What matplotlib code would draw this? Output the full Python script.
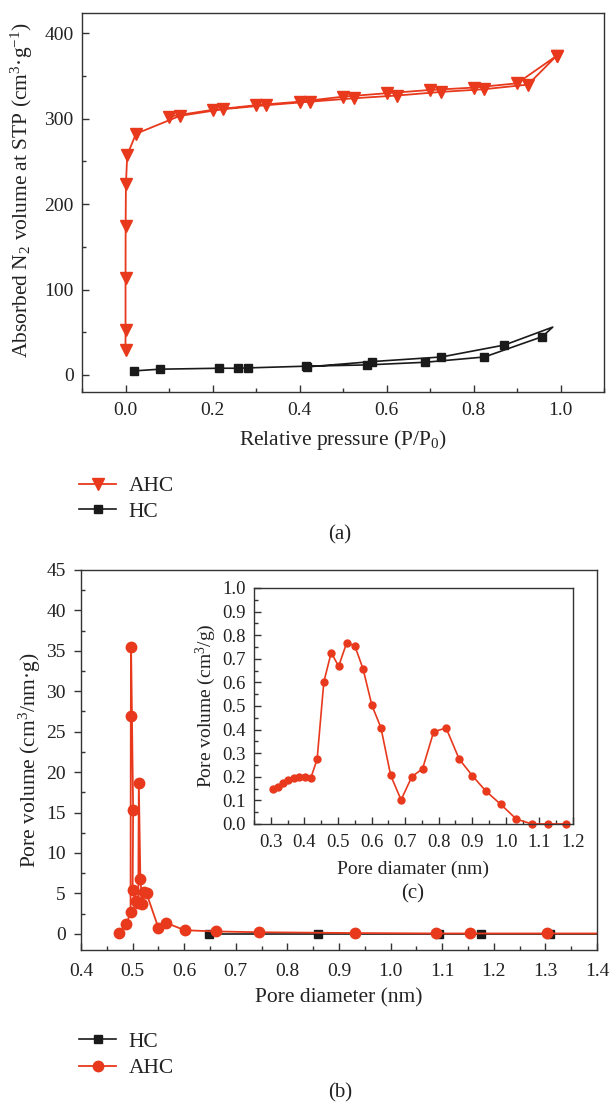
import matplotlib
matplotlib.use("Agg")
from matplotlib import pyplot as plt
from matplotlib.ticker import MultipleLocator

plt.rcParams['font.family'] = ['Liberation Serif', 'DejaVu Serif']
plt.rcParams['mathtext.fontset'] = 'custom'
plt.rcParams['mathtext.rm'] = 'Liberation Serif'
plt.rcParams['mathtext.it'] = 'Liberation Serif:italic'
plt.rcParams['axes.unicode_minus'] = True

RED = '#e8391d'
BLACK = '#1a1a1a'
TXT = '#222222'

# (a) N2 isotherms
ahc_ads_p = [0.00001, 0.00003, 0.0001, 0.0003, 0.001, 0.004, 0.024, 0.125, 0.224, 0.324,
             0.424, 0.525, 0.624, 0.724, 0.824, 0.925, 0.991]
ahc_ads_v = [29.2, 52.6, 113.7, 174.9, 224.0, 257.5, 282.4, 303.4, 311.2, 315.9,
             320.0, 324.0, 327.2, 331.4, 334.6, 340.0, 373.8]
ahc_des_p = [0.991, 0.90, 0.80, 0.70, 0.60, 0.50, 0.40, 0.30, 0.20, 0.10]
ahc_des_v = [373.8, 341.5, 336.5, 333.7, 329.9, 325.9, 320.0, 315.9, 310.4, 302.6]

hc_ads_p = [0.020, 0.079, 0.216, 0.258, 0.281, 0.414, 0.554, 0.689, 0.825, 0.958, 0.982]
hc_ads_v = [4.7, 6.7, 7.8, 7.8, 8.2, 10.2, 11.7, 14.8, 21.0, 44.8, 56.0]
hc_des_p = [0.982, 0.871, 0.726, 0.567, 0.418]
hc_des_v = [56.0, 35.0, 21.0, 15.6, 9.4]

# (b) pore size distribution
ahc_d = [0.473, 0.488, 0.496, 0.4965, 0.497, 0.501, 0.500, 0.506, 0.511, 0.512, 0.515,
         0.519, 0.523, 0.527, 0.550, 0.565, 0.601, 0.661, 0.745, 0.931, 1.088, 1.153,
         1.303, 1.50]
ahc_pv = [0.1, 1.2, 2.7, 26.9, 35.5, 15.3, 5.4, 4.1, 3.8, 18.7, 6.8,
          3.7, 5.2, 5.0, 0.74, 1.36, 0.45, 0.3, 0.2, 0.1, 0.05, 0.05,
          0.05, 0.05]
hc_d = [0.649, 0.859, 1.093, 1.175, 1.308, 1.50]
hc_pv = [0.0, 0.0, 0.0, 0.0, 0.0, 0.0]

# (c) inset
ins_d = [0.307, 0.321, 0.336, 0.351, 0.368, 0.384, 0.401, 0.419, 0.438, 0.458, 0.480,
         0.502, 0.526, 0.550, 0.575, 0.601, 0.628, 0.657, 0.688, 0.720, 0.752, 0.785,
         0.822, 0.861, 0.900, 0.940, 0.985, 1.031, 1.077, 1.126, 1.179]
ins_pv = [0.147, 0.158, 0.175, 0.186, 0.194, 0.200, 0.200, 0.194, 0.274, 0.602, 0.726,
          0.668, 0.767, 0.756, 0.656, 0.503, 0.408, 0.206, 0.102, 0.200, 0.234, 0.390,
          0.407, 0.275, 0.205, 0.140, 0.083, 0.021, 0.0, 0.0, 0.0]

fig = plt.figure(figsize=(6.11, 11.02), dpi=100)


def style(ax, fs=14, xpad=7):
    for s in ax.spines.values():
        s.set_linewidth(1.0)
        s.set_color('#333333')
    ax.tick_params(which='both', direction='in', top=False, right=False,
                   labelsize=fs, colors='#333333', labelcolor=TXT)
    ax.tick_params(which='major', length=5, width=1.0)
    ax.tick_params(which='minor', length=3, width=1.0)
    ax.tick_params(axis='x', which='both', pad=xpad)
    ax.tick_params(axis='y', which='both', pad=6)


# ---- (a)
ax1 = fig.add_axes([0.1342, 0.6443, 0.8545, 0.344])
style(ax1, xpad=7)
p_all = ahc_ads_p + ahc_des_p
v_all = ahc_ads_v + ahc_des_v
l_ahc, = ax1.plot(p_all, v_all, color=RED, lw=1.3, marker='v', ms=8, mfc=RED, mec=RED)
hp = hc_ads_p + hc_des_p[1:]
hv = hc_ads_v + hc_des_v[1:]
marks = [i for i in range(len(hp)) if i != len(hc_ads_p) - 1]
l_hc, = ax1.plot(hp, hv, color=BLACK, lw=1.2, marker='s', ms=5.5, mfc=BLACK, mec=BLACK,
                 markevery=marks)
ax1.set_xlim(-0.1, 1.1)
ax1.set_ylim(-20, 424)
ax1.xaxis.set_major_locator(MultipleLocator(0.2))
ax1.xaxis.set_minor_locator(MultipleLocator(0.1))
ax1.yaxis.set_major_locator(MultipleLocator(100))
ax1.yaxis.set_minor_locator(MultipleLocator(50))
ax1.set_xlabel('Relative pressure (P/P$_0$)', fontsize=15.5, color=TXT, labelpad=6.5)
ax1.set_ylabel('Absorbed N$_2$ volume at STP (cm$^3$·g$^{-1}$)', fontsize=15.5, color=TXT)
ax1.yaxis.set_label_coords(-0.09, 0.533)

fig.legend([l_ahc, l_hc], ['AHC', 'HC'], loc='upper left', bbox_to_anchor=(0.098, 0.5855),
           frameon=False, fontsize=15.5, handlelength=1.7, handletextpad=0.6,
           labelspacing=0.25, labelcolor=TXT)
fig.text(0.556, 1 - 535 / 1102, '(a)', ha='center', va='center', fontsize=15, color=TXT)

# ---- (b)
ax2 = fig.add_axes([0.1326, 0.1379, 0.8445, 0.3449])
style(ax2, xpad=9)
ax2.tick_params(axis='y', which='major', direction='out')
l_hc2, = ax2.plot(hc_d, hc_pv, color=BLACK, lw=1.2, marker='s', ms=5.5, mfc=BLACK, mec=BLACK)
l_ahc2, = ax2.plot(ahc_d, ahc_pv, color=RED, lw=1.3, marker='o', ms=7.5, mfc=RED, mec=RED)
ax2.set_xlim(0.4, 1.4)
ax2.set_ylim(-2, 45)
ax2.xaxis.set_major_locator(MultipleLocator(0.1))
ax2.xaxis.set_minor_locator(MultipleLocator(0.05))
ax2.yaxis.set_major_locator(MultipleLocator(5))
ax2.yaxis.set_minor_locator(MultipleLocator(2.5))
ax2.set_xlabel('Pore diameter (nm)', fontsize=15.5, color=TXT, labelpad=6)
ax2.set_ylabel('Pore volume (cm$^3$/nm·g)', fontsize=15.5, color=TXT)
ax2.yaxis.set_label_coords(-0.074, 0.5)

fig.legend([l_hc2, l_ahc2], ['HC', 'AHC'], loc='upper left', bbox_to_anchor=(0.098, 0.0815),
           frameon=False, fontsize=15.5, handlelength=1.7, handletextpad=0.6,
           labelspacing=0.3, labelcolor=TXT)
fig.text(0.556, 1 - 1093 / 1102, '(b)', ha='center', va='center', fontsize=15, color=TXT)

# ---- (c) inset
ax3 = fig.add_axes([0.4157, 0.2523, 0.5221, 0.2142])
style(ax3, fs=13.5, xpad=7)
ax3.plot(ins_d, ins_pv, color=RED, lw=1.2, marker='o', ms=5, mfc=RED, mec=RED, clip_on=False)
ax3.set_xlim(0.25, 1.2)
ax3.set_ylim(0, 1.0)
ax3.xaxis.set_major_locator(MultipleLocator(0.1))
ax3.xaxis.set_minor_locator(MultipleLocator(0.05))
ax3.yaxis.set_major_locator(MultipleLocator(0.1))
ax3.yaxis.set_minor_locator(MultipleLocator(0.05))
ax3.set_xlabel('Pore diamater (nm)', fontsize=14, color=TXT, labelpad=7)
ax3.set_ylabel('Pore volume (cm$^3$/g)', fontsize=14, color=TXT, labelpad=3)
fig.text(0.676, 1 - 894 / 1102, '(c)', ha='center', va='center', fontsize=15, color=TXT)

fig.savefig('out.png', dpi=100)
